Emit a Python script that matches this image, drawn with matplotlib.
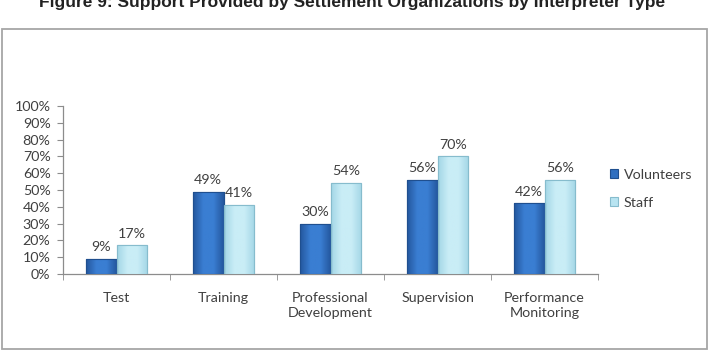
import matplotlib
matplotlib.use("Agg")
import matplotlib.pyplot as plt
import numpy as np
from matplotlib.colors import LinearSegmentedColormap
from matplotlib.patches import Rectangle

categories = ["Test", "Training", "Professional\nDevelopment", "Supervision", "Performance\nMonitoring"]
volunteers = [0.09, 0.49, 0.30, 0.56, 0.42]
staff = [0.17, 0.41, 0.54, 0.70, 0.56]
series_names = ["Volunteers", "Staff"]
title = "Figure 9: Support Provided by Settlement Organizations by Interpreter Type"

FONT = ["Lato", "DejaVu Sans"]
AXIS_GRAY = "#8c8c8c"
TEXT = "#404040"


def shade_bars(ax, bars, edge_col, mid_col):
    # soft horizontal bevel like the office chart style
    cmap = LinearSegmentedColormap.from_list("bevel", [edge_col, mid_col, mid_col, edge_col])
    grad = np.linspace(0, 1, 64).reshape(1, -1)
    for rect in bars:
        x0, y0 = rect.get_x(), rect.get_y()
        im = ax.imshow(grad, cmap=cmap, aspect="auto", zorder=3.5,
                       extent=(x0, x0 + rect.get_width(), y0, y0 + rect.get_height()))
        im.set_clip_path(rect)


fig = plt.figure(figsize=(7.09, 3.56), dpi=100, facecolor="white")

# title is clipped by the top edge in the reference
fig.text(0.497, 1 - 7 / 356, title, ha="center", va="baseline",
         fontsize=12.5, weight="bold", family="Liberation Sans", color="#222222")

# chart frame
frame = Rectangle((2 / 709, 1 - 349 / 356), 705 / 709, 320 / 356,
                  transform=fig.transFigure, fill=False, edgecolor="#a6a6a6", linewidth=1.3)
fig.patches.append(frame)

ax = fig.add_axes([63 / 709, 1 - 274 / 356, 535 / 709, 168 / 356])
x = np.arange(len(categories))
w = 0.285
b1 = ax.bar(x - w / 2, volunteers, w, color="#2f6fc0", edgecolor="#1f4f8f", linewidth=0.8,
            label=series_names[0], zorder=3)
b2 = ax.bar(x + w / 2, staff, w, color="#b8e4f1", edgecolor="#86bccd", linewidth=0.8,
            label=series_names[1], zorder=3)
shade_bars(ax, b1, "#24579e", "#3a7ed2")
shade_bars(ax, b2, "#a3d6e6", "#c9edf6")
for rect in list(b1) + list(b2):
    ax.add_patch(Rectangle((rect.get_x(), rect.get_y()), rect.get_width(), rect.get_height(),
                           fill=False, edgecolor=rect.get_edgecolor(), linewidth=0.8, zorder=4))

for bars, vals in ((b1, volunteers), (b2, staff)):
    for rect, v in zip(bars, vals):
        ax.text(rect.get_x() + rect.get_width() / 2, v + 0.035, f"{v * 100:.0f}%",
                ha="center", va="bottom", fontsize=10.3, family=FONT, color=TEXT)

ax.set_xlim(-0.5, len(categories) - 0.5)
ax.set_ylim(0, 1)
ax.set_yticks(np.linspace(0, 1, 11))
ax.set_yticklabels([f"{int(t)}%" for t in np.linspace(0, 100, 11)], family=FONT, fontsize=10.3, color=TEXT)
ax.set_xticks(x)
ax.set_xticklabels(categories, family=FONT, fontsize=10.3, color=TEXT, linespacing=1.3)
ax.set_xticks(np.arange(-0.5, len(categories), 1), minor=True)
ax.tick_params(axis="x", which="major", length=0, pad=13)
ax.tick_params(axis="x", which="minor", length=4, color=AXIS_GRAY, direction="out")
ax.tick_params(axis="y", length=4, color=AXIS_GRAY, pad=5)
for s in ("top", "right"):
    ax.spines[s].set_visible(False)
for s in ("left", "bottom"):
    ax.spines[s].set_color(AXIS_GRAY)
    ax.spines[s].set_linewidth(0.9)

leg = ax.legend(loc="upper left", bbox_to_anchor=(597 / 709, 1 - 156 / 356),
                bbox_transform=fig.transFigure, frameon=False,
                prop={"family": FONT, "size": 10.3}, handlelength=0.6, handleheight=0.6,
                handletextpad=0.35, labelspacing=1.1)
for t in leg.get_texts():
    t.set_color(TEXT)

fig.savefig("out.png", dpi=100, facecolor="white")
